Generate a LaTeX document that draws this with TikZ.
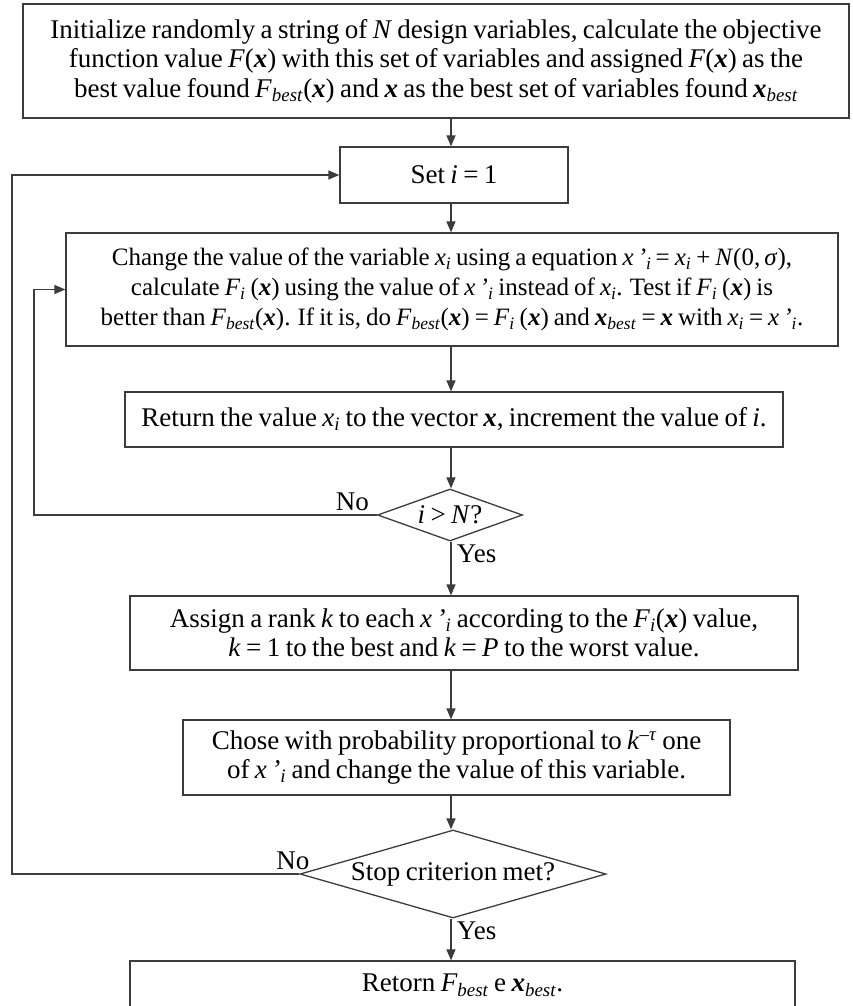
\documentclass[tikz,border=0pt]{standalone}
\usepackage{fontspec}
\setmainfont[FakeStretch=1.0,WordSpace=0.8]{Liberation Serif}
\usepackage{tikz}
\usetikzlibrary{arrows.meta,positioning,shapes.geometric}
\definecolor{flowline}{RGB}{60,60,60}
\newcommand{\vx}{\textbf{\textit{x}}}
\newcommand{\isub}[1]{\textsubscript{\textit{#1}}}
\tikzset{
  stepbox/.style={draw=flowline,line width=1.3pt,align=center,inner sep=0pt,
                  font=\fontsize{27}{29.5}\selectfont},
  decide/.style={diamond,draw=flowline,line width=1.3pt,inner sep=0pt,
                 font=\fontsize{27}{29.5}\selectfont},
  arr/.style={-{Triangle[length=11pt,width=9pt]},draw=flowline,line width=1.3pt},
  lbl/.style={font=\fontsize{27}{28}\selectfont},
}
\begin{document}
\begin{tikzpicture}[x=1pt,y=-1pt]
  \useasboundingbox (0,0) rectangle (852,1006);
  \coordinate (axis) at (451,0);
  \node[stepbox,minimum width=826pt,minimum height=114pt] (init) at (436,61)
    {Initialize randomly a string of \textit{N} design variables, calculate the objective\\
     function value \textit{F}(\vx) with this set of variables and assigned \textit{F}(\vx) as the\\
     best value found \textit{F}\isub{best}(\vx) and \vx\ as the best set of variables found \vx\isub{best}};
  \node[stepbox,minimum width=228pt,minimum height=56pt] (setbox) at (454,175)
    {Set \textit{i} = 1};
  \node[stepbox,font=\fontsize{25}{30}\selectfont,minimum width=772pt,minimum height=113pt]
    (change) at (452,289.5)
    {Change the value of the variable \textit{x}\isub{i} using a equation \textit{x\,'}\isub{i}\,= \textit{x}\isub{i} + \textit{N}(0,\,\textit{σ}),\\
     calculate \textit{F}\isub{i} (\vx) using the value of \textit{x\,'}\isub{i} instead of \textit{x}\isub{i}. Test if \textit{F}\isub{i} (\vx) is\\
     better than \textit{F}\isub{best}(\vx). If it is, do \textit{F}\isub{best}(\vx) = \textit{F}\isub{i} (\vx) and \vx\isub{best} = \vx\ with \textit{x}\isub{i} = \textit{x\,'}\isub{i}.};
  \node[stepbox,minimum width=658pt,minimum height=55pt] (ret) at (454,419.5)
    {Return the value \textit{x}\isub{i} to the vector \vx, increment the value of \textit{i}.};
  \node[decide,aspect=2.8,minimum width=145pt,minimum height=52pt] (chk1) at (450,515)
    {\textit{i} > \textit{N}?};
  \node[stepbox,minimum width=668pt,minimum height=74pt] (assign) at (464,633)
    {Assign a rank \textit{k} to each \textit{x\,'}\isub{i} according to the \textit{F}\isub{i}(\vx) value,\\
     \textit{k} = 1 to the best and \textit{k} = \textit{P} to the worst value.};
  \node[stepbox,minimum width=547pt,minimum height=75pt] (chose) at (456.5,757.5)
    {Chose with probability proportional to \textit{k}\textsuperscript{--\textit{τ}} one\\
     of \textit{x\,'}\isub{i} and change the value of this variable.};
  \node[decide,aspect=3.5,minimum width=306pt,minimum height=88pt] (chk2) at (453,874)
    {Stop criterion met?};
  \node[stepbox,minimum width=665pt,minimum height=48pt] (retorn) at (462.5,985)
    {Retorn \textit{F}\isub{best} e \vx\isub{best}.};

  % main flow
  \draw[arr] (init.south -| axis) -- (setbox.north -| axis);
  \draw[arr] (setbox.south -| axis) -- (change.north -| axis);
  \draw[arr] (change.south -| axis) -- (ret.north -| axis);
  \draw[arr] (ret.south -| axis) -- (chk1.north -| axis);
  \draw[arr] (chk1.south -| axis) -- (assign.north -| axis)
    node[lbl,pos=0.22,right=2pt] {Yes};
  \draw[arr] (assign.south -| axis) -- (chose.north -| axis);
  \draw[arr] (chose.south -| axis) -- (chk2.north -| axis);
  \draw[arr] (chk2.south -| axis) -- (retorn.north -| axis)
    node[lbl,pos=0.3,right=2pt] {Yes};

  % loops back
  \draw[arr] (chk1.west) node[lbl,above left=0pt and 4pt] {No}
    -- (34,515) |- (change.west);
  \draw[arr] (chk2.west) node[lbl,above left=0pt and -14pt] {No}
    -- (12,874) |- (setbox.west);
\end{tikzpicture}
\end{document}
